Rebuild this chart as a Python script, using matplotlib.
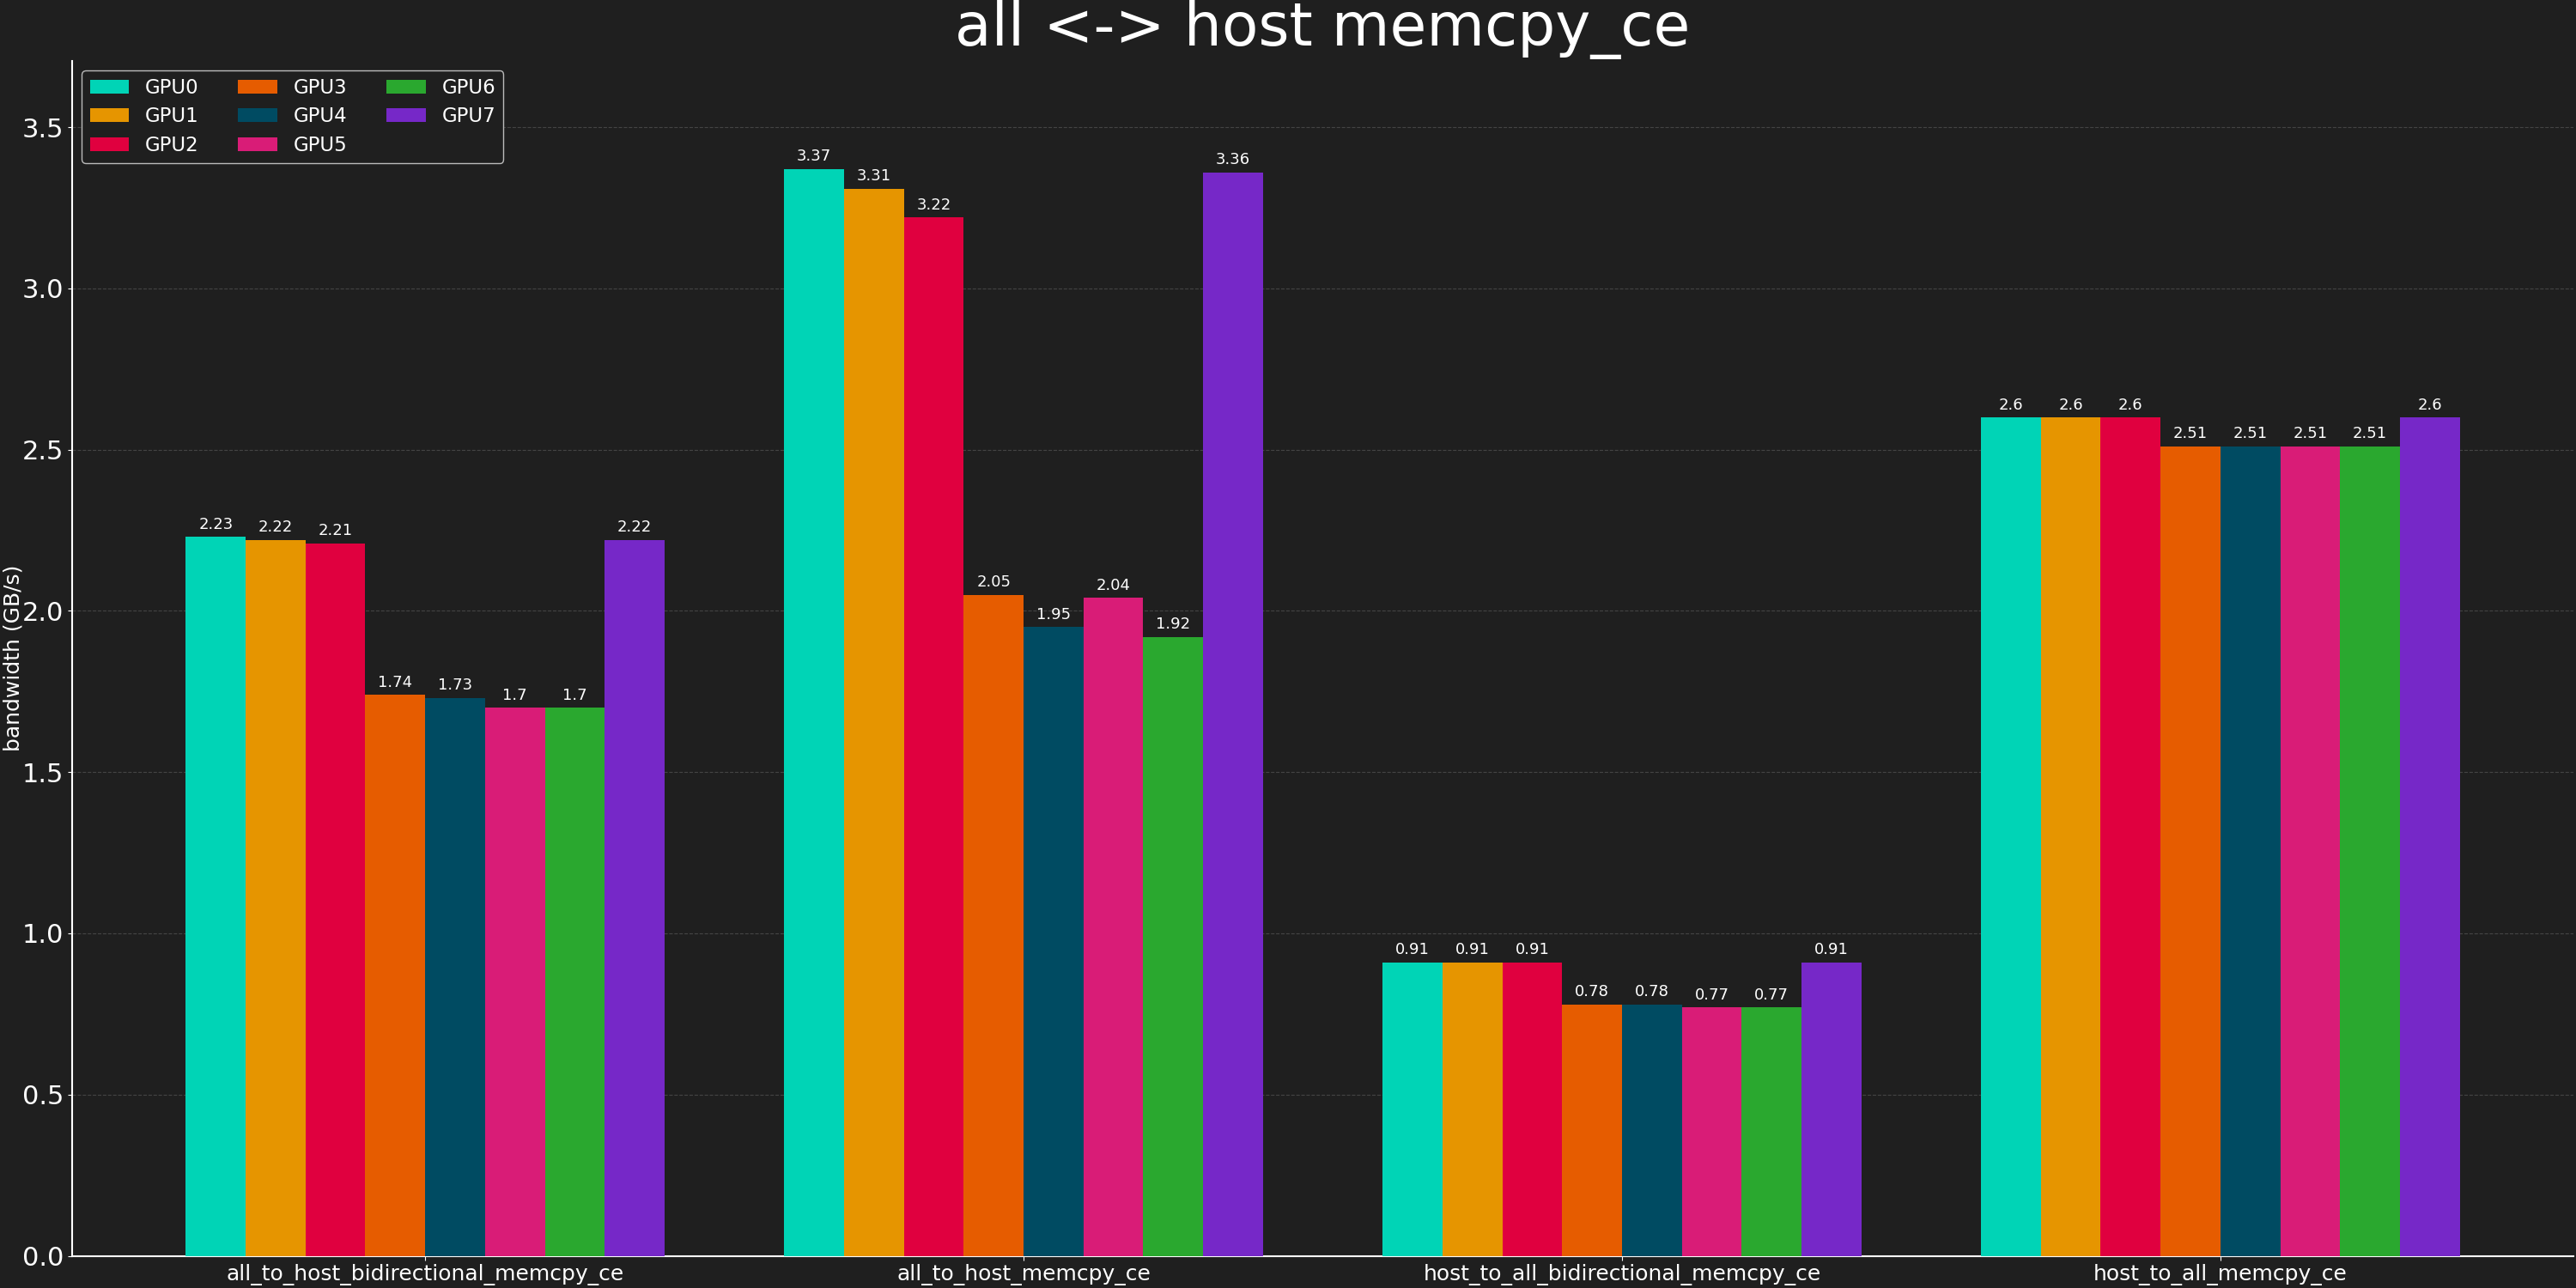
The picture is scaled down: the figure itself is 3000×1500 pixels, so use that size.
import matplotlib
matplotlib.use("Agg")
import matplotlib.pyplot as plt
import matplotlib.transforms as mtransforms
import numpy as np

tests = [
    "all_to_host_bidirectional_memcpy_ce",
    "all_to_host_memcpy_ce",
    "host_to_all_bidirectional_memcpy_ce",
    "host_to_all_memcpy_ce",
]
gpus = ["GPU0", "GPU1", "GPU2", "GPU3", "GPU4", "GPU5", "GPU6", "GPU7"]
bandwidth = [
    [2.23, 3.37, 0.91, 2.6],   # GPU0
    [2.22, 3.31, 0.91, 2.6],   # GPU1
    [2.21, 3.22, 0.91, 2.6],   # GPU2
    [1.74, 2.05, 0.78, 2.51],  # GPU3
    [1.73, 1.95, 0.78, 2.51],  # GPU4
    [1.7, 2.04, 0.77, 2.51],   # GPU5
    [1.7, 1.92, 0.77, 2.51],   # GPU6
    [2.22, 3.36, 0.91, 2.6],   # GPU7
]
colors = ["#00d4b6", "#e69500", "#e0003f", "#e65c00", "#004b62", "#d91c77", "#2aa82f", "#7628c8"]

BG = "#1f1f1f"
FG = "#ffffff"

fig = plt.figure(figsize=(30, 15), dpi=100, facecolor=BG)
ax = fig.add_axes([0.028, 0.025, 0.971, 0.928], facecolor=BG)

x = np.arange(len(tests))
width = 0.1
for i, (gpu, vals) in enumerate(zip(gpus, bandwidth)):
    offs = (i - (len(gpus) - 1) / 2) * width
    bars = ax.bar(x + offs, vals, width, color=colors[i], label=gpu, zorder=3)
    ax.bar_label(bars, labels=[f"{v:g}" for v in vals], padding=4, color=FG, fontsize=13)

ymax = max(max(v) for v in bandwidth)
ax.set_ylim(0, ymax * 1.1)
ax.set_xticks(x)
ax.set_xticklabels(tests, fontsize=18, color=FG)
ax.tick_params(axis="y", labelsize=22, colors=FG)
ax.tick_params(axis="x", colors=FG, pad=3)
ax.set_ylabel("bandwidth (GB/s)", fontsize=18, color=FG)
ax.yaxis.set_label_coords(-0.0195, 0.5)

# title centred over the axes, near the top of the figure
trans = mtransforms.blended_transform_factory(ax.transAxes, fig.transFigure)
ax.text(0.5, 0.977, "all <-> host memcpy_ce", transform=trans, fontsize=50,
        color=FG, ha="center", va="center")

ax.grid(axis="y", linestyle="--", color="#444444", linewidth=0.8, zorder=0)
for s in ("top", "right"):
    ax.spines[s].set_visible(False)
for s in ("left", "bottom"):
    ax.spines[s].set_color(FG)
    ax.spines[s].set_linewidth(1.5)

leg = ax.legend(ncol=3, loc="upper left", fontsize=16.5, facecolor=BG, edgecolor="#bbbbbb",
                labelcolor=FG, framealpha=1, handlelength=2.0, columnspacing=2.0,
                labelspacing=0.45, borderaxespad=0.5)

fig.savefig("out.png", dpi=100, facecolor=BG)
